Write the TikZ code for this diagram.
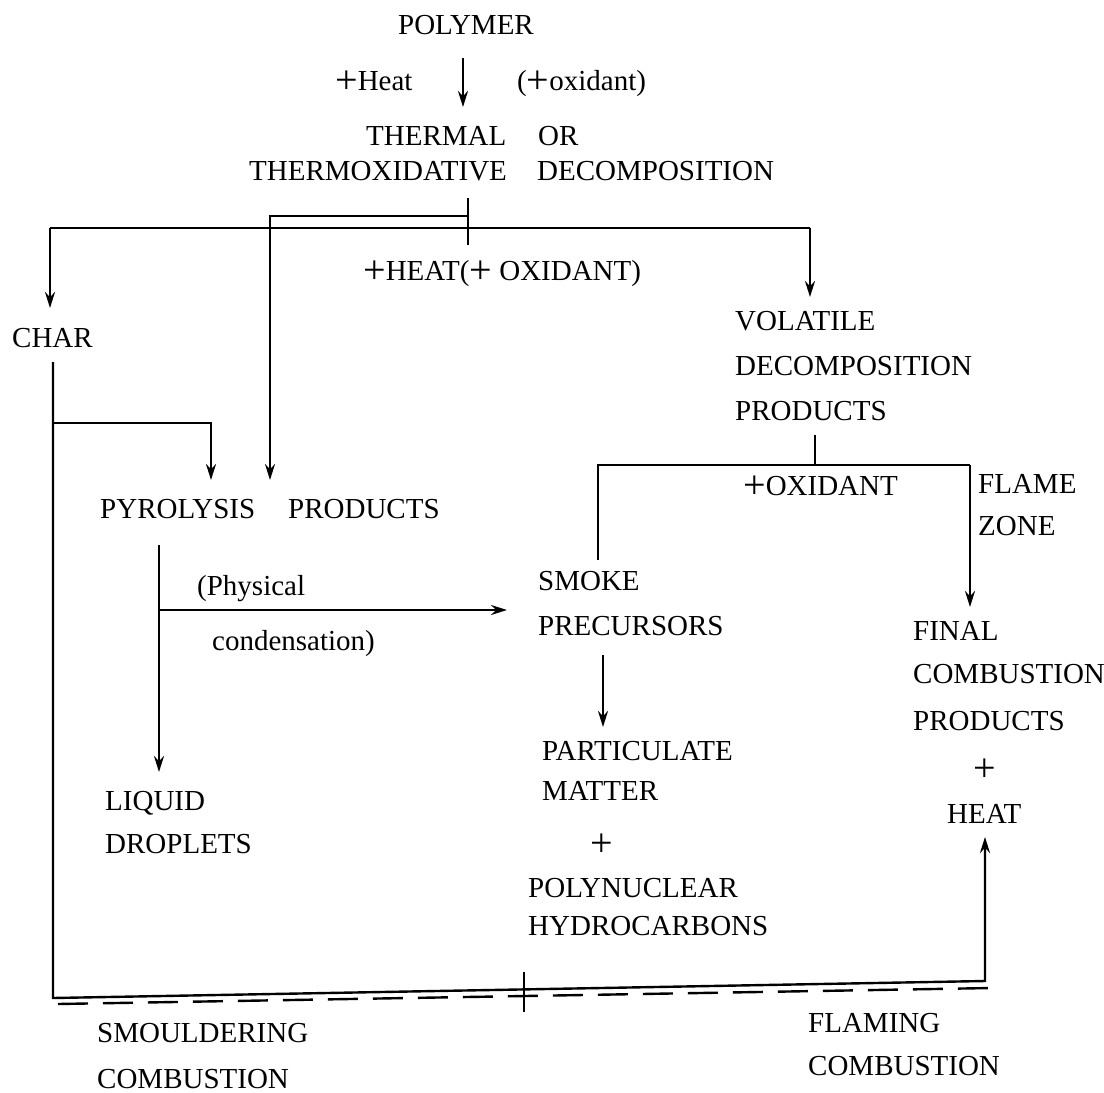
\documentclass[tikz,border=0pt]{standalone}
\usepackage{fontspec}
\setmainfont{Liberation Serif}
\usetikzlibrary{arrows.meta}
\newcommand\bigplus{\raisebox{-3.5pt}{\fontsize{40}{40}\selectfont +}}
\begin{document}
\begin{tikzpicture}[x=1pt,y=-1pt,
  txt/.style={anchor=base west,inner sep=0pt,font=\fontsize{29}{34}\selectfont},
  ctxt/.style={anchor=base,inner sep=0pt,font=\fontsize{29}{34}\selectfont},
  ln/.style={line width=2.4pt},
  arr/.style={line width=2.4pt,-{Stealth[length=16pt,width=10pt]}},
  dsh/.style={line width=2.4pt,dash pattern=on 30pt off 15pt}]
\useasboundingbox (0,0) rectangle (1104,1093);
\fill[white] (0,0) rectangle (1104,1093);
% texts
\node[ctxt] (polymer) at (466,34) {POLYMER};
\node[txt] (heat1) at (335,90) {\bigplus Heat};
\node[txt] (ox1) at (517,90) {(\bigplus oxidant)};
\node[txt] (thermal) at (366,145) {THERMAL};
\node[txt] (or) at (538,145) {OR};
\node[txt] (thermox) at (249,180) {THERMOXIDATIVE};
\node[txt] (decomp) at (537,180) {DECOMPOSITION};
\node[txt] (heat2) at (363,280) {\bigplus HEAT(\bigplus\ OXIDANT)};
\node[txt] (char) at (12,347) {CHAR};
\node[txt] (vol1) at (735,330) {VOLATILE};
\node[txt] (vol2) at (735,375) {DECOMPOSITION};
\node[txt] (vol3) at (735,420) {PRODUCTS};
\node[txt] (pyro) at (100,518) {PYROLYSIS};
\node[txt] (pyroprod) at (288,518) {PRODUCTS};
\node[txt] (phys) at (197,595) {(Physical};
\node[txt] (cond) at (212,650) {condensation)};
\node[txt] (liq) at (105,810) {LIQUID};
\node[txt] (drop) at (105,853) {DROPLETS};
\node[txt] (oxid) at (743,495) {\bigplus OXIDANT};
\node[txt] (flame) at (978,493) {FLAME};
\node[txt] (zone) at (978,535) {ZONE};
\node[txt] (smoke) at (538,590) {SMOKE};
\node[txt] (precurs) at (538,635) {PRECURSORS};
\node[txt] (partic) at (542,760) {PARTICULATE};
\node[txt] (matter) at (542,800) {MATTER};
\node[ctxt] (plusa) at (602,853) {\bigplus};
\node[txt] (polynuc) at (528,897) {POLYNUCLEAR};
\node[txt] (hydro) at (528,935) {HYDROCARBONS};
\node[txt] (final) at (913,640) {FINAL};
\node[txt] (combprod) at (913,683) {COMBUSTION};
\node[txt] (prodc) at (913,730) {PRODUCTS};
\node[ctxt] (plusb) at (985,778) {\bigplus};
\node[txt] (heatc) at (947,823) {HEAT};
\node[txt] (smould) at (97,1042) {SMOULDERING};
\node[txt] (smcomb) at (97,1088) {COMBUSTION};
\node[txt] (flaming) at (808,1032) {FLAMING};
\node[txt] (flcomb) at (808,1075) {COMBUSTION};
% coordinates
\coordinate (pa) at (463,58);
\coordinate (pb) at (463,107);
\coordinate (ta) at (468,198);
\coordinate (tb) at (468,245);
\coordinate (ua) at (468,216);
\coordinate (ub) at (270,216);
\coordinate (uc) at (270,480);
\coordinate (la) at (50,228);
\coordinate (lb) at (50,308);
\coordinate (lc) at (810,228);
\coordinate (ld) at (810,297);
\coordinate (ka) at (53,362);
\coordinate (kb) at (53,998);
\coordinate (kc) at (985,981);
\coordinate (kd) at (985,837);
\coordinate (ke) at (53,423);
\coordinate (kf) at (211,423);
\coordinate (kg) at (211,480);
\coordinate (qa) at (159,545);
\coordinate (qb) at (159,772);
\coordinate (qc) at (159,610);
\coordinate (qd) at (507,610);
\coordinate (va) at (815,435);
\coordinate (vb) at (815,465);
\coordinate (vc) at (598,465);
\coordinate (vd) at (598,560);
\coordinate (ve) at (970,465);
\coordinate (vf) at (970,607);
\coordinate (sa) at (603,655);
\coordinate (sb) at (603,727);
\coordinate (da) at (58,1004);
\coordinate (db) at (992,988);
\coordinate (xa) at (524,972);
\coordinate (xb) at (524,1012);
% connectors
\draw[arr] (pa) -- (pb);
\draw[ln] (ta) -- (tb);
\draw[arr] (ua) -- (ub) -- (uc);
\draw[ln] (la) -- (lc);
\draw[arr] (lc) -- (ld);
\draw[arr] (la) -- (lb);
\draw[arr,line join=miter] (ka) -- (kb) -- (kc) -- (kd);
\draw[arr] (ke) -- (kf) -- (kg);
\draw[arr] (qa) -- (qb);
\draw[arr] (qc) -- (qd);
\draw[ln] (va) -- (vb);
\draw[ln] (vd) -- (vc) -- (ve);
\draw[arr] (ve) -- (vf);
\draw[arr] (sa) -- (sb);
\draw[dsh] (da) -- (db);
\draw[ln] (xa) -- (xb);
\end{tikzpicture}
\end{document}
